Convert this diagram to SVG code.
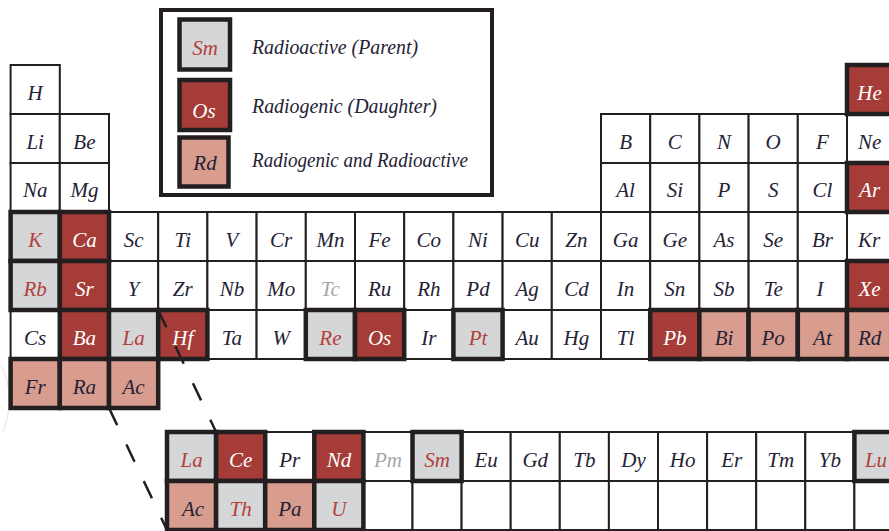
<svg xmlns="http://www.w3.org/2000/svg" width="889" height="531" viewBox="0 0 889 531">
<style>
rect.c{stroke:#231f20;stroke-width:2}
.w{fill:#fff}
.p{fill:#d5d6d8;stroke-width:4.5 !important}
.d{fill:#a53c37;stroke-width:4.5 !important}
.b{fill:#d89d8f;stroke-width:4.5 !important}
text{font-family:"Liberation Serif",serif;font-style:italic;font-size:21px;text-anchor:middle}
.tk{fill:#242235}
.tr{fill:#b3413a}
.tw{fill:#fff}
.tg{fill:#a7a6ad}
.lg{font-size:21px;text-anchor:start;fill:#242235}
.dash{stroke:#231f20;stroke-width:2.5;stroke-dasharray:19 21.5;fill:none}
</style>
<rect width="889" height="531" fill="#fff"/>
<path d="M 2 366 Q 16 398 3 432" stroke="#ececec" stroke-width="1.5" fill="none"/>

<g id="legend">
<rect x="161" y="10" width="331" height="185" fill="#fff" stroke="#231f20" stroke-width="4"/>
<g id="legend-parent"><rect class="c p" x="179.5" y="19.5" width="50.5" height="50"/><text class="tr" x="205" y="55">Sm</text><text class="lg" x="252" y="54" textLength="166" lengthAdjust="spacingAndGlyphs">Radioactive (Parent)</text></g>
<g id="legend-daughter"><rect class="c d" x="179.5" y="80" width="50.5" height="50"/><text class="tw" x="204" y="118">Os</text><text class="lg" x="252" y="113" textLength="185" lengthAdjust="spacingAndGlyphs">Radiogenic (Daughter)</text></g>
<g id="legend-both"><rect class="c b" x="179.5" y="137.5" width="49" height="49"/><text class="tk" x="205" y="170">Rd</text><text class="lg" x="252" y="167" textLength="216" lengthAdjust="spacingAndGlyphs">Radiogenic and Radioactive</text></g>
</g>

<g id="table">
<!-- white cells -->
<g id="H"><rect class="c w" x="10.6" y="65" width="49.2" height="49"/><text class="tk" x="35.2" y="100">H</text></g>
<g id="Li"><rect class="c w" x="10.6" y="114" width="49.2" height="49"/><text class="tk" x="35.2" y="149">Li</text></g>
<g id="Be"><rect class="c w" x="59.8" y="114" width="49.2" height="49"/><text class="tk" x="84.4" y="149">Be</text></g>
<g id="B"><rect class="c w" x="601" y="114" width="49.2" height="49"/><text class="tk" x="625.6" y="149">B</text></g>
<g id="C"><rect class="c w" x="650.2" y="114" width="49.2" height="49"/><text class="tk" x="674.8" y="149">C</text></g>
<g id="N"><rect class="c w" x="699.4" y="114" width="49.2" height="49"/><text class="tk" x="724" y="149">N</text></g>
<g id="O"><rect class="c w" x="748.6" y="114" width="49.2" height="49"/><text class="tk" x="773.2" y="149">O</text></g>
<g id="F"><rect class="c w" x="797.8" y="114" width="49.2" height="49"/><text class="tk" x="822.4" y="149">F</text></g>
<g id="Ne"><rect class="c w" x="847" y="114" width="49.2" height="49"/><text class="tk" x="869.6" y="149">Ne</text></g>
<g id="Na"><rect class="c w" x="10.6" y="163" width="49.2" height="49"/><text class="tk" x="35.2" y="197">Na</text></g>
<g id="Mg"><rect class="c w" x="59.8" y="163" width="49.2" height="49"/><text class="tk" x="84.4" y="197">Mg</text></g>
<g id="Al"><rect class="c w" x="601" y="163" width="49.2" height="49"/><text class="tk" x="625.6" y="197">Al</text></g>
<g id="Si"><rect class="c w" x="650.2" y="163" width="49.2" height="49"/><text class="tk" x="674.8" y="197">Si</text></g>
<g id="P"><rect class="c w" x="699.4" y="163" width="49.2" height="49"/><text class="tk" x="724" y="197">P</text></g>
<g id="S"><rect class="c w" x="748.6" y="163" width="49.2" height="49"/><text class="tk" x="773.2" y="197">S</text></g>
<g id="Cl"><rect class="c w" x="797.8" y="163" width="49.2" height="49"/><text class="tk" x="822.4" y="197">Cl</text></g>

<g id="Sc"><rect class="c w" x="109" y="212" width="49.2" height="49"/><text class="tk" x="133.6" y="247">Sc</text></g>
<g id="Ti"><rect class="c w" x="158.2" y="212" width="49.2" height="49"/><text class="tk" x="182.8" y="247">Ti</text></g>
<g id="V"><rect class="c w" x="207.4" y="212" width="49.2" height="49"/><text class="tk" x="232" y="247">V</text></g>
<g id="Cr"><rect class="c w" x="256.6" y="212" width="49.2" height="49"/><text class="tk" x="281.2" y="247">Cr</text></g>
<g id="Mn"><rect class="c w" x="305.8" y="212" width="49.2" height="49"/><text class="tk" x="330.4" y="247">Mn</text></g>
<g id="Fe"><rect class="c w" x="355" y="212" width="49.2" height="49"/><text class="tk" x="379.6" y="247">Fe</text></g>
<g id="Co"><rect class="c w" x="404.2" y="212" width="49.2" height="49"/><text class="tk" x="428.8" y="247">Co</text></g>
<g id="Ni"><rect class="c w" x="453.4" y="212" width="49.2" height="49"/><text class="tk" x="478" y="247">Ni</text></g>
<g id="Cu"><rect class="c w" x="502.6" y="212" width="49.2" height="49"/><text class="tk" x="527.2" y="247">Cu</text></g>
<g id="Zn"><rect class="c w" x="551.8" y="212" width="49.2" height="49"/><text class="tk" x="576.4" y="247">Zn</text></g>
<g id="Ga"><rect class="c w" x="601" y="212" width="49.2" height="49"/><text class="tk" x="625.6" y="247">Ga</text></g>
<g id="Ge"><rect class="c w" x="650.2" y="212" width="49.2" height="49"/><text class="tk" x="674.8" y="247">Ge</text></g>
<g id="As"><rect class="c w" x="699.4" y="212" width="49.2" height="49"/><text class="tk" x="724" y="247">As</text></g>
<g id="Se"><rect class="c w" x="748.6" y="212" width="49.2" height="49"/><text class="tk" x="773.2" y="247">Se</text></g>
<g id="Br"><rect class="c w" x="797.8" y="212" width="49.2" height="49"/><text class="tk" x="822.4" y="247">Br</text></g>
<g id="Kr"><rect class="c w" x="847" y="212" width="49.2" height="49"/><text class="tk" x="869" y="247">Kr</text></g>

<g id="Y"><rect class="c w" x="109" y="261" width="49.2" height="49"/><text class="tk" x="133.6" y="296">Y</text></g>
<g id="Zr"><rect class="c w" x="158.2" y="261" width="49.2" height="49"/><text class="tk" x="182.8" y="296">Zr</text></g>
<g id="Nb"><rect class="c w" x="207.4" y="261" width="49.2" height="49"/><text class="tk" x="232" y="296">Nb</text></g>
<g id="Mo"><rect class="c w" x="256.6" y="261" width="49.2" height="49"/><text class="tk" x="281.2" y="296">Mo</text></g>
<g id="Tc"><rect class="c w" x="305.8" y="261" width="49.2" height="49"/><text class="tg" x="330.4" y="296">Tc</text></g>
<g id="Ru"><rect class="c w" x="355" y="261" width="49.2" height="49"/><text class="tk" x="379.6" y="296">Ru</text></g>
<g id="Rh"><rect class="c w" x="404.2" y="261" width="49.2" height="49"/><text class="tk" x="428.8" y="296">Rh</text></g>
<g id="Pd"><rect class="c w" x="453.4" y="261" width="49.2" height="49"/><text class="tk" x="478" y="296">Pd</text></g>
<g id="Ag"><rect class="c w" x="502.6" y="261" width="49.2" height="49"/><text class="tk" x="527.2" y="296">Ag</text></g>
<g id="Cd"><rect class="c w" x="551.8" y="261" width="49.2" height="49"/><text class="tk" x="576.4" y="296">Cd</text></g>
<g id="In"><rect class="c w" x="601" y="261" width="49.2" height="49"/><text class="tk" x="625.6" y="296">In</text></g>
<g id="Sn"><rect class="c w" x="650.2" y="261" width="49.2" height="49"/><text class="tk" x="674.8" y="296">Sn</text></g>
<g id="Sb"><rect class="c w" x="699.4" y="261" width="49.2" height="49"/><text class="tk" x="724" y="296">Sb</text></g>
<g id="Te"><rect class="c w" x="748.6" y="261" width="49.2" height="49"/><text class="tk" x="773.2" y="296">Te</text></g>
<g id="I"><rect class="c w" x="797.8" y="261" width="49.2" height="49"/><text class="tk" x="820" y="296">I</text></g>

<g id="Cs"><rect class="c w" x="10.6" y="310" width="49.2" height="49"/><text class="tk" x="35.2" y="345">Cs</text></g>
<g id="Ta"><rect class="c w" x="207.4" y="310" width="49.2" height="49"/><text class="tk" x="232" y="345">Ta</text></g>
<g id="W"><rect class="c w" x="256.6" y="310" width="49.2" height="49"/><text class="tk" x="281.2" y="345">W</text></g>
<g id="Ir"><rect class="c w" x="404.2" y="310" width="49.2" height="49"/><text class="tk" x="428.8" y="345">Ir</text></g>
<g id="Au"><rect class="c w" x="502.6" y="310" width="49.2" height="49"/><text class="tk" x="527.2" y="345">Au</text></g>
<g id="Hg"><rect class="c w" x="551.8" y="310" width="49.2" height="49"/><text class="tk" x="576.4" y="345">Hg</text></g>
<g id="Tl"><rect class="c w" x="601" y="310" width="49.2" height="49"/><text class="tk" x="625.6" y="345">Tl</text></g>

<!-- coloured cells -->
<g id="He"><rect class="c d" x="847" y="65" width="49.2" height="49"/><text class="tw" x="869.6" y="100">He</text></g>
<g id="Ar"><rect class="c d" x="847" y="163" width="49.2" height="49"/><text class="tw" x="869.6" y="197">Ar</text></g>
<g id="K"><rect class="c p" x="10.6" y="212" width="49.2" height="49"/><text class="tr" x="35.2" y="247">K</text></g>
<g id="Ca"><rect class="c d" x="59.8" y="212" width="49.2" height="49"/><text class="tw" x="84.4" y="247">Ca</text></g>
<g id="Rb"><rect class="c p" x="10.6" y="261" width="49.2" height="49"/><text class="tr" x="35.2" y="296">Rb</text></g>
<g id="Sr"><rect class="c d" x="59.8" y="261" width="49.2" height="49"/><text class="tw" x="84.4" y="296">Sr</text></g>
<g id="Xe"><rect class="c d" x="847" y="261" width="49.2" height="49"/><text class="tw" x="869.6" y="296">Xe</text></g>
<g id="Ba"><rect class="c d" x="59.8" y="310" width="49.2" height="49"/><text class="tw" x="84.4" y="345">Ba</text></g>
<g id="La"><rect class="c p" x="109" y="310" width="49.2" height="49"/><text class="tr" x="133.6" y="345">La</text></g>
<g id="Hf"><rect class="c d" x="158.2" y="310" width="49.2" height="49"/><text class="tw" x="182.8" y="345">Hf</text></g>
<g id="Re"><rect class="c p" x="305.8" y="310" width="49.2" height="49"/><text class="tr" x="330.4" y="345">Re</text></g>
<g id="Os"><rect class="c d" x="355" y="310" width="49.2" height="49"/><text class="tw" x="379.6" y="345">Os</text></g>
<g id="Pt"><rect class="c p" x="453.4" y="310" width="49.2" height="49"/><text class="tr" x="478" y="345">Pt</text></g>
<g id="Pb"><rect class="c d" x="650.2" y="310" width="49.2" height="49"/><text class="tw" x="674.8" y="345">Pb</text></g>
<g id="Bi"><rect class="c b" x="699.4" y="310" width="49.2" height="49"/><text class="tk" x="724" y="345">Bi</text></g>
<g id="Po"><rect class="c b" x="748.6" y="310" width="49.2" height="49"/><text class="tk" x="773.2" y="345">Po</text></g>
<g id="At"><rect class="c b" x="797.8" y="310" width="49.2" height="49"/><text class="tk" x="822.4" y="345">At</text></g>
<g id="Rd"><rect class="c b" x="847" y="310" width="49.2" height="49"/><text class="tk" x="869.6" y="345">Rd</text></g>
<g id="Fr"><rect class="c b" x="10.6" y="359" width="49.2" height="49"/><text class="tk" x="35.2" y="394">Fr</text></g>
<g id="Ra"><rect class="c b" x="59.8" y="359" width="49.2" height="49"/><text class="tk" x="84.4" y="394">Ra</text></g>
<g id="Ac"><rect class="c b" x="109" y="359" width="49.2" height="49"/><text class="tk" x="133.6" y="394">Ac</text></g>
</g>

<g id="series">
<g id="Pr"><rect class="c w" x="265.2" y="432" width="49.1" height="49"/><text class="tk" x="289.8" y="467">Pr</text></g>
<g id="Pm"><rect class="c w" x="363.4" y="432" width="49.1" height="49"/><text class="tg" x="388" y="467">Pm</text></g>
<g id="Eu"><rect class="c w" x="461.6" y="432" width="49.1" height="49"/><text class="tk" x="486.2" y="467">Eu</text></g>
<g id="Gd"><rect class="c w" x="510.7" y="432" width="49.1" height="49"/><text class="tk" x="535.3" y="467">Gd</text></g>
<g id="Tb"><rect class="c w" x="559.8" y="432" width="49.1" height="49"/><text class="tk" x="584.4" y="467">Tb</text></g>
<g id="Dy"><rect class="c w" x="608.9" y="432" width="49.1" height="49"/><text class="tk" x="633.5" y="467">Dy</text></g>
<g id="Ho"><rect class="c w" x="658" y="432" width="49.1" height="49"/><text class="tk" x="682.6" y="467">Ho</text></g>
<g id="Er"><rect class="c w" x="707.1" y="432" width="49.1" height="49"/><text class="tk" x="731.7" y="467">Er</text></g>
<g id="Tm"><rect class="c w" x="756.2" y="432" width="49.1" height="49"/><text class="tk" x="780.8" y="467">Tm</text></g>
<g id="Yb"><rect class="c w" x="805.3" y="432" width="49.1" height="49"/><text class="tk" x="829.9" y="467">Yb</text></g>
<g id="act-5"><rect class="c w" x="363.4" y="481" width="49.1" height="49"/></g>
<g id="act-6"><rect class="c w" x="412.5" y="481" width="49.1" height="49"/></g>
<g id="act-7"><rect class="c w" x="461.6" y="481" width="49.1" height="49"/></g>
<g id="act-8"><rect class="c w" x="510.7" y="481" width="49.1" height="49"/></g>
<g id="act-9"><rect class="c w" x="559.8" y="481" width="49.1" height="49"/></g>
<g id="act-10"><rect class="c w" x="608.9" y="481" width="49.1" height="49"/></g>
<g id="act-11"><rect class="c w" x="658" y="481" width="49.1" height="49"/></g>
<g id="act-12"><rect class="c w" x="707.1" y="481" width="49.1" height="49"/></g>
<g id="act-13"><rect class="c w" x="756.2" y="481" width="49.1" height="49"/></g>
<g id="act-14"><rect class="c w" x="805.3" y="481" width="49.1" height="49"/></g>
<g id="act-15"><rect class="c w" x="854.4" y="481" width="49.1" height="49"/></g>

<g id="La2"><rect class="c p" x="167" y="432" width="49.1" height="49"/><text class="tr" x="191.6" y="467">La</text></g>
<g id="Ce"><rect class="c d" x="216.1" y="432" width="49.1" height="49"/><text class="tw" x="240.7" y="467">Ce</text></g>
<g id="Nd"><rect class="c d" x="314.3" y="432" width="49.1" height="49"/><text class="tw" x="338.9" y="467">Nd</text></g>
<g id="Sm"><rect class="c p" x="412.5" y="432" width="49.1" height="49"/><text class="tr" x="437.1" y="467">Sm</text></g>
<g id="Lu"><rect class="c p" x="854.4" y="432" width="49.1" height="49"/><text class="tr" x="876" y="467">Lu</text></g>
<g id="Ac2"><rect class="c b" x="167" y="481" width="49.1" height="49"/><text class="tk" x="193" y="516">Ac</text></g>
<g id="Th"><rect class="c p" x="216.1" y="481" width="49.1" height="49"/><text class="tr" x="240.7" y="516">Th</text></g>
<g id="Pa"><rect class="c b" x="265.2" y="481" width="49.1" height="49"/><text class="tk" x="289.8" y="516">Pa</text></g>
<g id="U"><rect class="c p" x="314.3" y="481" width="49.1" height="49"/><text class="tr" x="338.9" y="516">U</text></g>
</g>

<g id="connectors">
<line class="dash" x1="158.2" y1="310" x2="216.1" y2="432"/>
<line class="dash" x1="109" y1="408" x2="167" y2="530"/>
</g>
</svg>
